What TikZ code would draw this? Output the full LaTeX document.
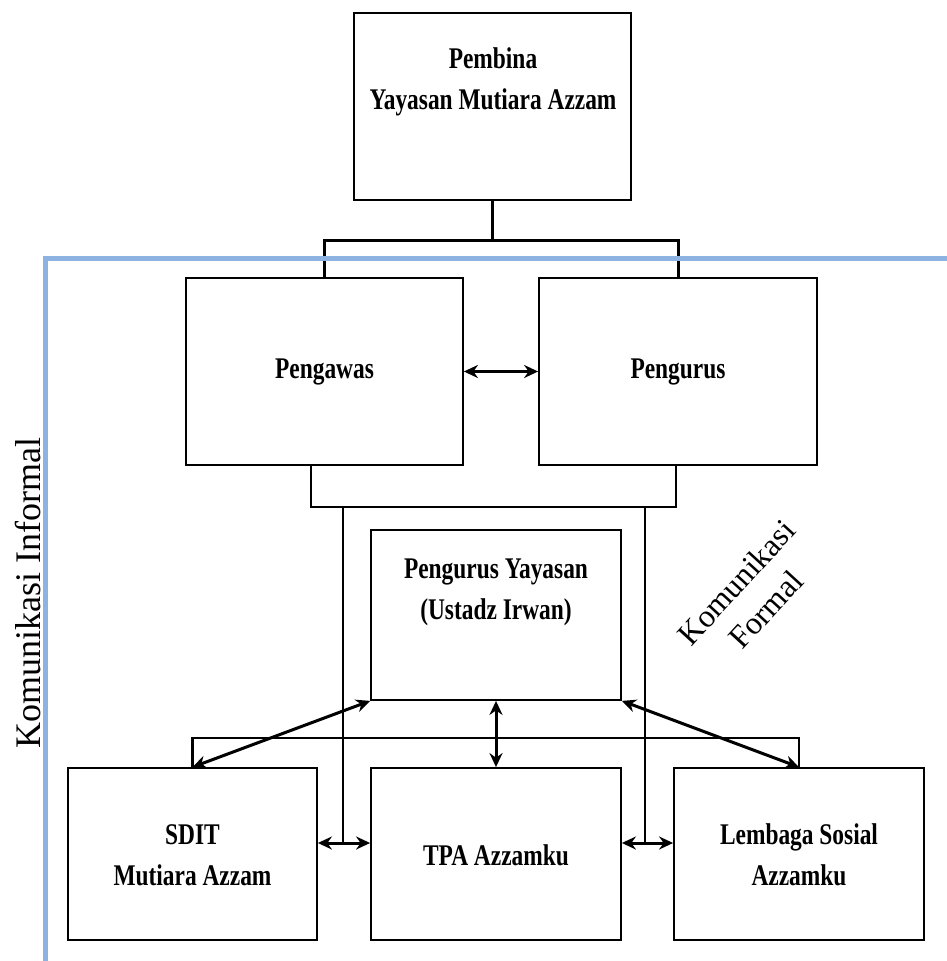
\documentclass[tikz,border=0pt]{standalone}
\usepackage{fontspec}
\setmainfont{Liberation Serif}
\newfontfamily\boxfont[FakeStretch=0.78]{Liberation Serif}
\usetikzlibrary{arrows.meta,calc}
\definecolor{frameblue}{RGB}{141,179,226}
\begin{document}
\begin{tikzpicture}[x=1pt,y=-1pt,
  box/.style={draw,line width=1.8pt,inner sep=0pt},
  lbl/.style={font=\boxfont\bfseries\fontsize{30}{41}\selectfont,align=center,inner sep=0pt},
  conn/.style={line width=2.2pt},
  topconn/.style={line width=3pt},
  tip/.tip={Stealth[length=14pt,width=13pt]},
  biarrow/.style={line width=3pt,tip-tip},
]
\useasboundingbox (0,0) rectangle (947,961);
\fill[white] (0,0) rectangle (947,961);

% boxes
\node[box,minimum width=277,minimum height=187] (pembina) at (492.5,106.5) {};
\node[box,minimum width=277,minimum height=187] (pengawas) at (324.5,371.5) {};
\node[box,minimum width=278,minimum height=187] (pengurus) at (678,371.5) {};
\node[box,minimum width=250,minimum height=170] (py) at (496,615) {};
\node[box,minimum width=249,minimum height=172] (sdit) at (192.5,854) {};
\node[box,minimum width=250,minimum height=172] (tpa) at (496,854) {};
\node[box,minimum width=250,minimum height=172] (lembaga) at (799,854) {};

% labels
\node[lbl] (pembinaT) at (493,82) {Pembina\\Yayasan Mutiara Azzam};
\node[lbl] (pengawasT) at (324.5,372) {Pengawas};
\node[lbl] (pengurusT) at (678,372) {Pengurus};
\node[lbl] (pyT) at (496,592) {Pengurus Yayasan\\(Ustadz Irwan)};
\node[lbl] (sditT) at (192.5,855) {SDIT\\Mutiara Azzam};
\node[lbl] (tpaT) at (496,855) {TPA Azzamku};
\node[lbl] (lembagaT) at (799,855) {Lembaga Sosial\\Azzamku};

% top connector
\coordinate (tj) at (492.5,240);
\draw[topconn] (pembina.south) -- (tj);
\draw[topconn] (pengawas.north) |- (tj) -| (pengurus.north);

% bracket under pengawas / pengurus
\coordinate (bl) at (311,507);
\coordinate (br) at (676,507);
\draw[conn] (bl |- pengawas.south) -- (bl) -- (br) -- (br |- pengurus.south);
\coordinate (j1) at (343,843);
\coordinate (j2) at (645,843);
\draw[conn] (j1 |- bl) -- (j1);
\draw[conn] (j2 |- br) -- (j2);

% horizontal bar over bottom row
\coordinate (hb) at (496,738);
\draw[conn] (sdit.north) |- (hb) -| (lembaga.north);

% arrows
\draw[biarrow] (pengawas.east) -- (pengurus.west);
\draw[biarrow] (sdit.east |- j1) -- (tpa.west |- j1);
\draw[biarrow] (tpa.east |- j2) -- (lembaga.west |- j2);
\draw[biarrow] (sdit.north) -- (py.south west);
\draw[biarrow] (lembaga.north) -- (py.south east);
\draw[biarrow] (py.south) -- (tpa.north);

% blue frame
\coordinate (fc) at (45,258);
\draw[frameblue,line width=5pt] (947,258) -- (fc) -- (45,961);

% side labels
\node[rotate=90,inner sep=0pt,font=\fontsize{36}{40}\selectfont] (informal) at (28,593) {Komunikasi Informal};
\node[rotate=47.5,inner sep=0pt,align=center,font=\fontsize{32}{40}\selectfont] (formal) at (751,596) {Komunikasi\\Formal};
\end{tikzpicture}
\end{document}
